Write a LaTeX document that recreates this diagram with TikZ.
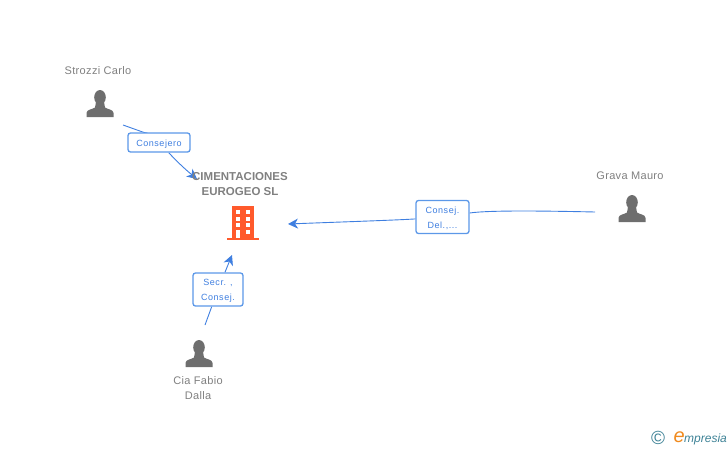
\documentclass[tikz,border=0pt]{standalone}
\usepackage{xcolor}
\usepackage{fontspec}
\setmainfont{Liberation Sans}
\usetikzlibrary{arrows.meta,positioning}
\pgfdeclarelayer{bg}
\pgfsetlayers{bg,main}
\definecolor{persongray}{HTML}{6E6E6E}
\definecolor{labelgray}{HTML}{808080}
\definecolor{linkblue}{HTML}{3F7FE0}
\definecolor{boxblue}{HTML}{5C98E8}
\definecolor{towerred}{HTML}{FF5A2C}
\definecolor{logoteal}{HTML}{3E8296}
\definecolor{logoorange}{HTML}{F08A1E}
\tikzset{
	person/.pic = {
		\fill[persongray] (0,19.7) ellipse (5.8 and 7.3);
		\fill[persongray] (-13.5,0) -- (-13.5,4) .. controls (-13.5,7.5) and (-8,7.5) .. (-5,9.5) -- (-4,15) -- (4,15) -- (5,9.5) .. controls (8,7.5) and (13.5,7.5) .. (13.5,4) -- (13.5,0) -- cycle;
	},
	personname/.style = {text = labelgray, font = \fontsize{11}{15}\selectfont\addfontfeature{LetterSpace=3}, align = center},
	rolebox/.style = {draw = boxblue, line width = 1.3pt, rounded corners = 2.5pt, fill = white, inner sep = 0pt},
	roletext/.style = {text = linkblue, align = center, yshift = -1.5pt, font = \fontsize{9}{15.5}\selectfont\addfontfeature{LetterSpace=6}},
	link/.style = {draw = linkblue, line width = 0.9pt},
	linkhead/.style = {link, -{Stealth[length = 10pt, width = 10pt, inset = 3pt]}},
}
\begin{document}
\begin{tikzpicture}[x = 1pt, y = 1pt]
	\useasboundingbox (0,0) rectangle (728,-450);

	% people
	\pic at (100,-117) {person};
	\pic at (632,-222) {person};
	\pic at (199,-367) {person};
	\node[personname] (strozzi) at (98,-71) {Strozzi Carlo};
	\node[personname] (grava) at (630,-176) {Grava Mauro};
	\node[personname] (cia) at (198,-388.5) {Cia Fabio\\Dalla};

	% company
	\node[text = labelgray, align = center, font = \fontsize{11.5}{15}\selectfont\bfseries] (firma) at (240,-184) {CIMENTACIONES\\EUROGEO SL};
	\fill[towerred] (232,-206) rectangle (254,-238);
	\fill[towerred] (227,-237.5) rectangle (259,-240);
	\foreach \fy in {-210,-216.7,-223.3}
		\foreach \fx in {235.7,245.7}
			\fill[white] (\fx,\fy) rectangle +(4.6,-4);
	\fill[white] (235.7,-230) rectangle (240.3,-237.5);
	\fill[white] (245.7,-230) rectangle (250.3,-234);

	% role labels
	\node[rolebox, minimum width = 62pt, minimum height = 19pt, label = {[roletext]center:Consejero}] (r1) at (159,-142.5) {};
	\node[rolebox, minimum width = 53pt, minimum height = 33pt, label = {[roletext]center:Consej.\\Del.,...}] (r2) at (442.5,-217) {};
	\node[rolebox, minimum width = 50pt, minimum height = 33pt, label = {[roletext]center:Secr. ,\\Consej.}] (r3) at (218,-289.5) {};

	% free ends of the links
	\coordinate (c1) at (123,-125);
	\coordinate (t1) at (197,-179);
	\coordinate (c2) at (595,-212);
	\coordinate (t2) at (288,-224);
	\coordinate (c3) at (205,-325);
	\coordinate (t3) at (232,-255);

	\begin{pgfonlayer}{bg}
		\draw[link] (c1) .. controls (140,-131) and (150,-135) .. (r1);
		\draw[linkhead] (r1) .. controls (170,-154) and (180,-165) .. (t1);
		\draw[link] (c2) .. controls (550,-211) and (490,-210) .. (r2);
		\draw[linkhead] (r2) .. controls (400,-220) and (340,-222) .. (t2);
		\draw[link] (c3) -- (r3);
		\draw[linkhead] (r3) -- (t3);
	\end{pgfonlayer}

	% logo
	\node[text = logoteal, font = \fontsize{19}{19}\selectfont, inner sep = 0pt] (copy) at (658,-438) {©};
	\node[text = logoteal, anchor = west, font = \fontsize{12}{12}\selectfont\itshape, inner sep = 0pt] (brand) at (684,-439) {mpresia};
	\node[text = logoorange, anchor = east, font = \fontsize{20}{20}\selectfont\itshape, inner sep = 0pt] (brande) at (685,-437.5) {e};
\end{tikzpicture}
\end{document}
